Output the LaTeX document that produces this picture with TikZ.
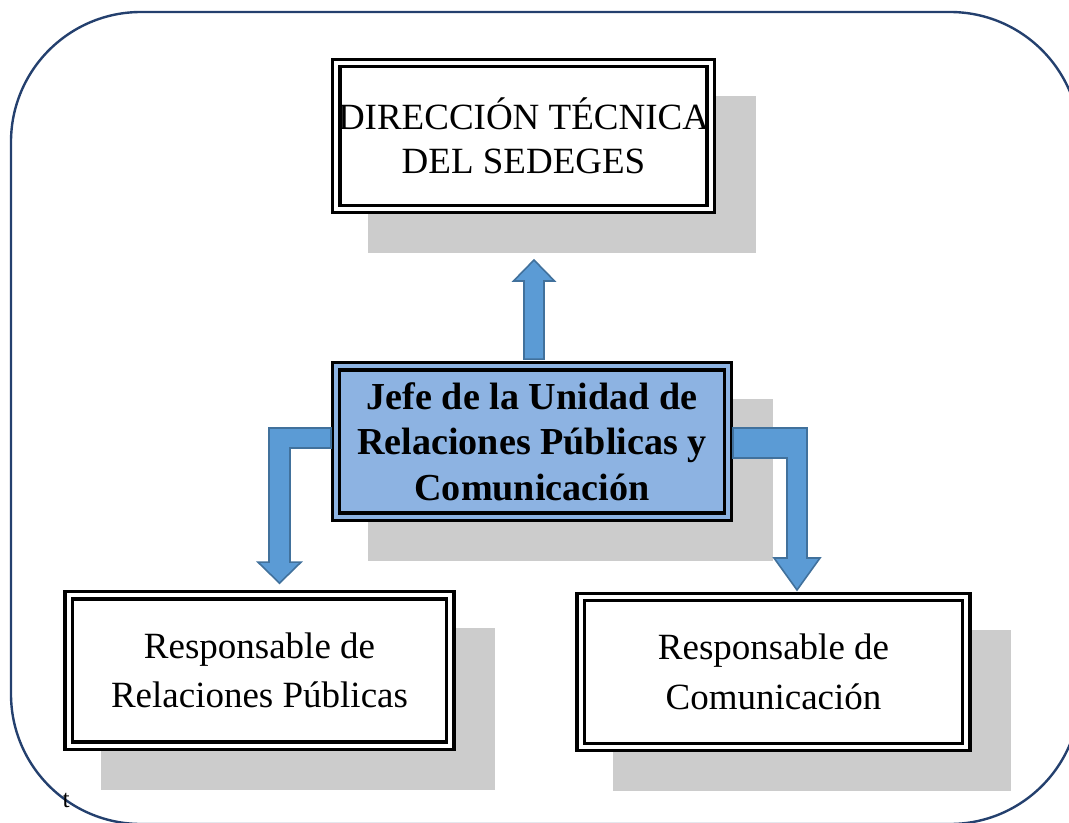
\documentclass[tikz,border=0pt]{standalone}
\usepackage{fontspec}
\setmainfont{Liberation Serif}
\usetikzlibrary{positioning, calc, backgrounds}
\definecolor{framenavy}{RGB}{36,64,110}
\definecolor{jefeblue}{RGB}{141,179,226}
\definecolor{arrowblue}{RGB}{91,155,213}
\definecolor{arrowedge}{RGB}{65,113,156}
\definecolor{shadowgray}{RGB}{204,204,204}
\tikzstyle{unit} = [rectangle, draw=black, line width=2.6pt, double=white, double distance=3pt, fill=white, inner sep=0pt, outer sep=0pt, align=center, font=\fontsize{27.75}{33}\selectfont]
\tikzstyle{head} = [unit, fill=jefeblue, double=jefeblue, font=\bfseries\fontsize{28.6}{34}\selectfont]
\tikzstyle{resp} = [unit, font=\fontsize{27.75}{37}\selectfont]
\tikzstyle{blockarrow} = [fill=arrowblue, draw=arrowedge, line width=1.2pt, line join=miter]

\begin{document}
\begin{tikzpicture}[x=0.75pt, y=-0.75pt]
\useasboundingbox (0,0) rectangle (1069,823);
\clip (0,0) rectangle (1069,823);
% marco exterior
\draw [framenavy, line width=1.8pt, rounded corners=97.5pt] (11,12) rectangle (1080,824);
\node at (58,807) [anchor=base west, font=\fontsize{19}{19}\selectfont] {t};

% cajas
\node (dir) [unit, minimum width=281pt, minimum height=109.5pt] at (523.5,136) {DIRECCIÓN TÉCNICA\\DEL SEDEGES};
\node (jefe) [head, minimum width=294pt, minimum height=113pt] at (532,441.5) {Jefe de la Unidad de\\Relaciones Públicas y\\Comunicación};
\node (resrp) [resp, minimum width=286pt, minimum height=113pt] at (259.5,670.5) {Responsable de\\Relaciones Públicas};
\node (rescom) [resp, minimum width=289pt, minimum height=112.5pt] at (773.5,672) {Responsable de\\Comunicación};

% sombras
\begin{scope}[on background layer]
\foreach \n in {dir, jefe, resrp, rescom}
  \fill [shadowgray] ($(\n.north west)+(32,33)$) rectangle ($(\n.south east)+(45,44)$);
\end{scope}

% flechas
\coordinate (upfoot) at ($(jefe.north)+(2,-7)$);
\coordinate (uptip) at ($(upfoot |- dir.south)+(0,51)$);
\draw [blockarrow] ($(upfoot)+(-10,0)$) -- ($(uptip)+(-10,21)$) -- ($(uptip)+(-20.5,21)$) -- (uptip) -- ($(uptip)+(20.5,21)$) -- ($(uptip)+(10,21)$) -- ($(upfoot)+(10,0)$) -- cycle;

\coordinate (lstart) at ($(jefe.west)+(-5,-13.5)$);
\coordinate (ltip) at ($(resrp.north)+(20,-12)$);
\draw [blockarrow] (lstart) -- ($(ltip |- lstart)+(-10.5,0)$) -- ($(ltip)+(-10.5,-21)$) -- ($(ltip)+(-21.5,-21)$) -- (ltip) -- ($(ltip)+(21.5,-21)$) -- ($(ltip)+(10.5,-21)$) -- ($(ltip |- lstart)+(10.5,20)$) -- ($(lstart)+(0,20)$) -- cycle;

\coordinate (rstart) at ($(jefe.east)+(5,-13.5)$);
\coordinate (rtip) at ($(rescom.north)+(23.5,-7)$);
\draw [blockarrow] (rstart) -- ($(rtip |- rstart)+(10,0)$) -- ($(rtip)+(10,-32)$) -- ($(rtip)+(23,-32)$) -- (rtip) -- ($(rtip)+(-23,-32)$) -- ($(rtip)+(-10,-32)$) -- ($(rtip |- rstart)+(-10,30)$) -- ($(rstart)+(0,30)$) -- cycle;
\end{tikzpicture}
\end{document}
